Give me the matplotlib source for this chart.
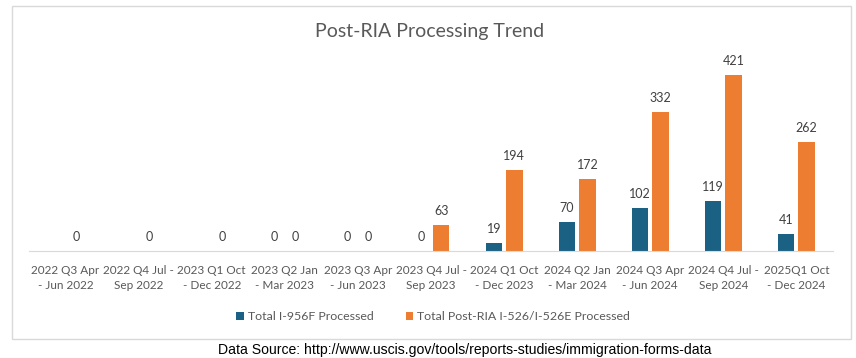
import numpy as np
import matplotlib.pyplot as plt
from matplotlib.patches import Rectangle

plt.rcParams['font.family'] = ['Lato', 'DejaVu Sans']

quarters = ["2022 Q3 Apr\n- Jun 2022", "2022 Q4 Jul -\nSep 2022", "2023 Q1 Oct\n- Dec 2022",
            "2023 Q2 Jan\n- Mar 2023", "2023 Q3 Apr\n- Jun 2023", "2023 Q4 Jul -\nSep 2023",
            "2024 Q1 Oct\n- Dec 2023", "2024 Q2 Jan\n- Mar 2024", "2024 Q3 Apr\n- Jun 2024",
            "2024 Q4 Jul -\nSep 2024", "2025Q1 Oct\n- Dec 2024"]
# None = no value reported for that quarter
i956f = [None, None, None, 0, 0, 0, 19, 70, 102, 119, 41]
i526 = [0, 0, 0, 0, 0, 63, 194, 172, 332, 421, 262]

blue = '#1B6184'
orange = '#ED7D31'
label_col = '#404040'
tick_col = '#595959'

fig = plt.figure(figsize=(8.56, 3.58), dpi=100)
# outer chart frame
fig.patches.append(Rectangle((12/856, 1 - 339/358), (851-12)/856, 333/358,
                             transform=fig.transFigure, fill=False,
                             edgecolor='#D9D9D9', linewidth=1))

ax = fig.add_axes([29/856, 1 - 251/358, (833-29)/856, 188/358])
x = np.arange(len(quarters))
w = 0.225
off = 0.14

for xs, vals, col, name in [(x - off, i956f, blue, 'Total I-956F Processed'),
                            (x + off, i526, orange, 'Total Post-RIA I-526/I-526E Processed')]:
    pos = [p for p, v in zip(xs, vals) if v is not None]
    hv = [v for v in vals if v is not None]
    ax.bar(pos, hv, width=w, color=col, label=name)
    for p, v in zip(pos, hv):
        ax.annotate(str(v), (p, v), xytext=(0, 10), textcoords='offset points',
                    ha='center', va='center', fontsize=9, color=label_col)

ax.set_xlim(-0.5, len(quarters) - 0.5)
ax.set_ylim(0, 450)
ax.set_xticks(x)
ax.set_xticklabels(quarters, fontsize=8.5, color=tick_col, linespacing=1.45)
ax.tick_params(axis='x', length=0, pad=10)
ax.set_yticks([])
for s in ['top', 'right', 'left']:
    ax.spines[s].set_visible(False)
ax.spines['bottom'].set_color('#D9D9D9')

fig.text(430/856, 1 - 31/358, 'Post-RIA Processing Trend', ha='center', va='center',
         fontsize=14, color=tick_col)

leg = fig.legend(loc='center', bbox_to_anchor=(433/856, 1 - 317/358), ncol=2,
                 frameon=False, fontsize=8.9, handlelength=0.6, handleheight=0.6,
                 columnspacing=2.6, handletextpad=0.3)
for t in leg.get_texts():
    t.set_color(tick_col)

fig.text(465/856, 1 - 350/358, 'Data Source: http://www.uscis.gov/tools/reports-studies/immigration-forms-data',
         ha='center', va='center', fontsize=10.1, color='black', family='Liberation Sans')

fig.savefig('out.png', dpi=100)
